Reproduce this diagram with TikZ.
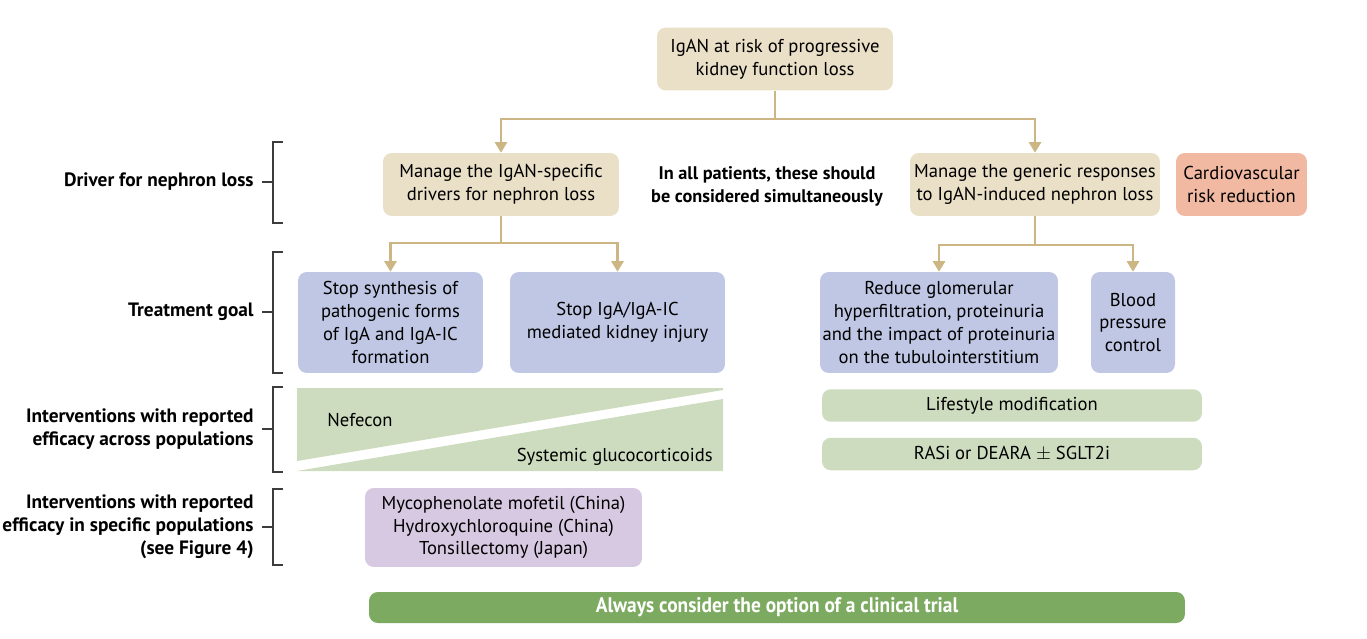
\documentclass[tikz,border=0pt]{standalone}
\usepackage{fontspec}
\setmainfont{PT Sans}
\newfontfamily\narrowfont{PT Sans}[FakeStretch=0.92]
\usetikzlibrary{arrows.meta}
\definecolor{mytan}{RGB}{234,223,199}
\definecolor{mylink}{RGB}{204,182,132}
\definecolor{myblue}{RGB}{191,199,228}
\definecolor{mygreen}{RGB}{205,220,191}
\definecolor{mypurple}{RGB}{215,201,225}
\definecolor{mysalmon}{RGB}{241,184,162}
\definecolor{mybar}{RGB}{124,170,96}
\definecolor{mygray}{RGB}{60,60,60}
\tikzset{
  box/.style={rounded corners=5pt, inner sep=0pt, align=center, font=\fontsize{10.6}{13}\selectfont},
  tanbox/.style={box, fill=mytan, minimum height=1.26cm},
  bluebox/.style={box, fill=myblue, minimum height=2.02cm},
  greenbox/.style={box, fill=mygreen, minimum height=0.65cm},
  link/.style={draw=mylink, line width=1.2pt, -{Triangle[length=6pt,width=7pt]}},
  brace/.style={draw=mygray, line width=0.6pt},
  rowlabel/.style={anchor=east, align=right, inner sep=0pt, font=\fontsize{11}{13}\selectfont\bfseries}
}
\begin{document}
\begin{tikzpicture}[x=0.02cm, y=-0.02cm]
\useasboundingbox (0,0) rectangle (1367,639);

 %flow chart
 \node[tanbox, minimum width=4.72cm] (top) at (775,59) {IgAN at risk of progressive\\kidney function loss};
 \node[tanbox, minimum width=4.72cm] (drvL) at (501,184.5) {Manage the IgAN-specific\\drivers for nephron loss};
 \node[tanbox, minimum width=5.0cm] (drvR) at (1035,184.5) {Manage the generic responses\\to IgAN-induced nephron loss};
 \node[box, fill=mysalmon, minimum width=2.62cm, minimum height=1.26cm] (cardio) at (1241.5,184.5) {Cardiovascular\\risk reduction};
 \node[box, font=\fontsize{10.4}{13}\selectfont\bfseries] (note) at (767,186) {In all patients, these should\\be considered simultaneously};

 \node[bluebox, minimum width=3.7cm] (goalA) at (390.5,322.5) {Stop synthesis of\\pathogenic forms\\of IgA and IgA-IC\\formation};
 \node[bluebox, minimum width=4.3cm] (goalB) at (617.5,322.5) {Stop IgA/IgA-IC\\mediated kidney injury};
 \node[bluebox, minimum width=4.76cm] (goalC) at (939,322.5) {Reduce glomerular\\hyperfiltration, proteinuria\\and the impact of proteinuria\\on the tubulointerstitium};
 \node[bluebox, minimum width=1.68cm] (goalD) at (1133,322.5) {Blood\\pressure\\control};

 \coordinate (splitTop) at (775,119);
 \coordinate (splitL) at (501,243);
 \coordinate (splitR) at (1035,245);
 \draw[link, -] (top) -- (splitTop);
 \draw[link] (splitTop) -| (drvL);
 \draw[link] (splitTop) -| (drvR);
 \draw[link, -] (drvL) -- (splitL);
 \draw[link] (splitL) -| (goalA);
 \draw[link] (splitL) -| (goalB);
 \draw[link, -] (drvR) -- (splitR);
 \draw[link] (splitR) -| (goalC);
 \draw[link] (splitR) -| (goalD);

 %interventions
 \fill[mygreen] (297,388) -- (723,388) -- (723,390) -- (297,461) -- cycle;
 \fill[mygreen] (297,471) -- (723,399) -- (723,471) -- cycle;
 \node[box, anchor=west] (nefecon) at (327,420) {Nefecon};
 \node[box, anchor=east] (steroid) at (713,457) {Systemic glucocorticoids};
 \node[greenbox, minimum width=7.6cm] (life) at (1012,405.5) {Lifestyle modification};
 \node[greenbox, minimum width=7.6cm] (rasi) at (1012,454) {RASi or DEARA $\pm$ SGLT2i};
 \node[box, fill=mypurple, minimum width=5.54cm, minimum height=1.58cm] (local) at (503.5,527.5) {Mycophenolate mofetil (China)\\Hydroxychloroquine (China)\\Tonsillectomy (Japan)};
 \node[box, fill=mybar, text=white, minimum width=16.32cm, minimum height=0.62cm, font=\narrowfont\bfseries\fontsize{12}{13}\selectfont] (trial) at (777,607.5) {Always consider the option of a clinical trial};

 %row labels
 \node[rowlabel] (labA) at (254,182) {Driver for nephron loss};
 \node[rowlabel] (labB) at (254,312) {Treatment goal};
 \node[rowlabel] (labC) at (254,429) {Interventions with reported\\efficacy across populations};
 \node[rowlabel] (labD) at (254,527) {Interventions with reported\\efficacy in specific populations\\(see Figure 4)};
 \foreach \lab/\ya/\yb in {labA/142/223, labB/252/373, labC/387/472, labD/489/565}{
   \draw[brace] (283,\ya) -- (273,\ya) -- (273,\yb) -- (283,\yb);
   \draw[brace] ([xshift=0.16cm]\lab.east) -- ++(0.22cm,0);
 }
\end{tikzpicture}
\end{document}
